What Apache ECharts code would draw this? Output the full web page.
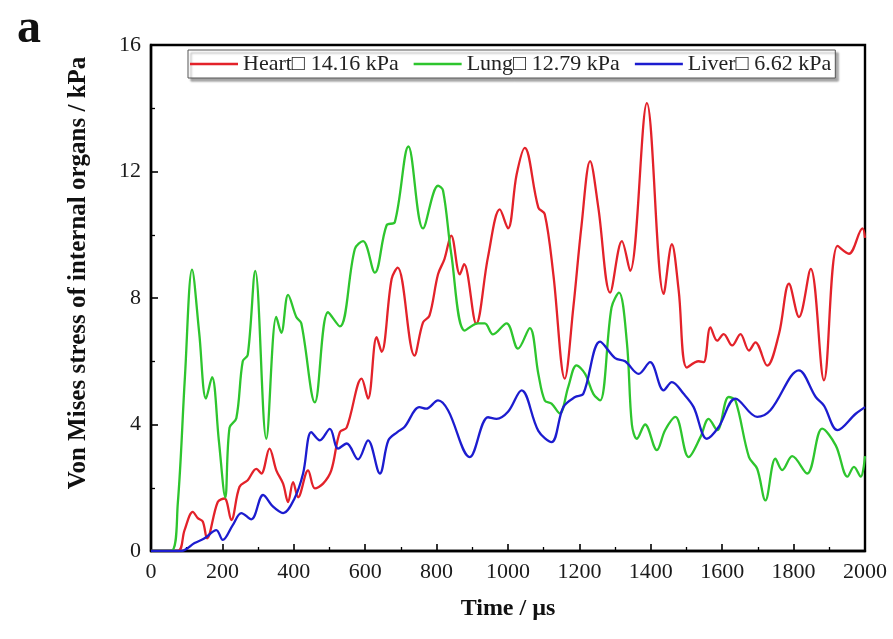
<!DOCTYPE html>
<html>
<head>
<meta charset="utf-8">
<script src="https://cdn.jsdelivr.net/npm/echarts@6/dist/echarts.min.js"></script>
<style>
  html, body { margin: 0; padding: 0; background: #fff; }
  #chart { width: 893px; height: 639px; }
</style>
</head>
<body>
<div id="chart"></div>
<script>
// Von Mises stress histories of three organs (time in µs, stress in kPa)
const heartTime = [0, 75, 94, 117, 131, 145, 157, 187, 206, 225, 248, 271, 295, 309, 332, 351, 370, 384, 398, 412, 440, 459, 482, 505, 529, 548, 590, 608, 632, 646, 674, 691, 738, 762, 780, 804, 822, 841, 865, 877, 911, 944, 977, 1000, 1024, 1047, 1085, 1103, 1127, 1159, 1183, 1206, 1230, 1253, 1286, 1319, 1342, 1389, 1436, 1459, 1478, 1501, 1534, 1548, 1567, 1586, 1604, 1628, 1651, 1675, 1693, 1726, 1759, 1787, 1815, 1848, 1885, 1923, 1955, 1993, 2000];
const heartStress = [0, 0, 0.66, 1.24, 1.04, 0.93, 0.4, 1.55, 1.66, 0.98, 2.03, 2.24, 2.6, 2.45, 3.24, 2.55, 2.13, 1.55, 2.18, 1.7, 2.55, 1.98, 2.13, 2.55, 3.76, 3.9, 5.45, 4.82, 6.76, 6.3, 8.6, 8.96, 6.18, 7.23, 7.44, 8.75, 9.23, 9.97, 8.75, 9.07, 7.19, 9.3, 10.8, 10.2, 11.9, 12.75, 10.86, 10.65, 8.75, 5.45, 7.7, 10.3, 12.33, 10.86, 8.17, 9.8, 8.86, 14.16, 8.13, 9.7, 8.25, 5.8, 6.0, 5.97, 7.07, 6.65, 6.86, 6.5, 6.86, 6.34, 6.6, 5.86, 6.86, 8.45, 7.4, 8.92, 5.4, 9.65, 9.4, 10.2, 9.9];

const lungTime = [0, 56, 75, 95, 115, 135, 154, 171, 190, 208, 220, 239, 257, 271, 292, 323, 351, 365, 384, 407, 421, 459, 496, 529, 571, 594, 627, 660, 683, 721, 762, 804, 818, 841, 879, 916, 935, 958, 996, 1028, 1061, 1085, 1103, 1122, 1145, 1169, 1192, 1216, 1239, 1258, 1290, 1311, 1333, 1347, 1361, 1384, 1417, 1440, 1469, 1506, 1539, 1562, 1586, 1618, 1637, 1675, 1698, 1721, 1749, 1768, 1796, 1838, 1880, 1918, 1951, 1969, 1988, 2000];
const lungStress = [0, 0, 1.5, 5.5, 8.9, 6.9, 4.82, 5.5, 3.5, 1.7, 3.9, 4.2, 6.0, 6.2, 8.86, 3.55, 7.4, 6.9, 8.1, 7.4, 7.2, 4.7, 7.55, 7.1, 9.55, 9.8, 8.8, 10.3, 10.4, 12.79, 10.2, 11.55, 11.4, 9.4, 6.97, 7.2, 7.2, 6.85, 7.2, 6.4, 7.05, 5.6, 4.76, 4.66, 4.35, 5.2, 5.87, 5.6, 4.97, 4.76, 7.7, 8.17, 6.6, 4.0, 3.55, 4.0, 3.19, 3.82, 4.24, 2.97, 3.6, 4.18, 3.82, 4.87, 4.76, 2.97, 2.6, 1.6, 2.92, 2.56, 3.0, 2.45, 3.87, 3.34, 2.35, 2.66, 2.35, 3.0];

const liverTime = [0, 84, 122, 150, 183, 201, 229, 253, 281, 314, 342, 370, 402, 426, 449, 473, 501, 524, 548, 580, 608, 641, 665, 690, 710, 752, 771, 804, 832, 893, 944, 968, 1000, 1038, 1085, 1122, 1155, 1188, 1211, 1258, 1300, 1328, 1366, 1398, 1436, 1459, 1492, 1520, 1557, 1590, 1637, 1698, 1735, 1815, 1862, 1885, 1923, 1974, 2000];
const liverStress = [0, 0, 0.25, 0.4, 0.66, 0.35, 0.82, 1.2, 1.0, 1.77, 1.4, 1.2, 1.66, 2.45, 3.76, 3.5, 3.86, 3.24, 3.4, 2.9, 3.5, 2.45, 3.5, 3.76, 3.92, 4.55, 4.5, 4.76, 4.45, 2.97, 4.23, 4.18, 4.4, 5.08, 3.8, 3.44, 4.55, 4.87, 4.97, 6.62, 6.1, 6.0, 5.6, 5.97, 5.08, 5.34, 4.97, 4.55, 3.55, 3.92, 4.82, 4.24, 4.45, 5.71, 4.87, 4.6, 3.82, 4.34, 4.55];

const seriesNames = ['Heart\u25A1 14.16 kPa', 'Lung\u25A1 12.79 kPa', 'Liver\u25A1 6.62 kPa'];
const seriesColors = ['#e3222a', '#2ec52e', '#1c1ccf'];

const xTicks = { min: 0, max: 2000, interval: 200 };
const yTicks = { min: 0, max: 16, interval: 4 };

const serif = 'Liberation Serif';

function pairs(ts, vs) { return ts.map((t, i) => [t, vs[i]]); }

const chart = echarts.init(document.getElementById('chart'), null, { renderer: 'canvas' });

const axisCommon = {
  axisLine: { show: true, lineStyle: { color: '#000', width: 2.4 } },
  axisTick: { show: true, inside: true, length: 7, lineStyle: { color: '#000', width: 1.6 } },
  minorTick: { show: true, splitNumber: 2, length: 4, lineStyle: { color: '#000', width: 1.3 } },
  splitLine: { show: false },
  axisLabel: { color: '#1a1a1a', fontFamily: serif, fontSize: 22, margin: 10, formatter: v => String(v) },
  nameTextStyle: { color: '#111', fontFamily: serif, fontSize: 24, fontWeight: 'bold' }
};

chart.setOption({
  backgroundColor: '#fff',
  animation: false,
  graphic: [{
    type: 'text', left: 17, top: 6,
    style: { text: 'a', font: 'bold 48px "Liberation Serif"', fill: '#111' }
  }],
  grid: { left: 151, right: 28, top: 45, bottom: 88, show: true, borderColor: '#000', borderWidth: 2.4, backgroundColor: 'transparent' },
  legend: {
    left: 188, top: 50,
    data: seriesNames,
    icon: 'rect',
    itemWidth: 48, itemHeight: 2.5, itemGap: 15,
    padding: [3, 4, 3, 2],
    backgroundColor: '#fff',
    borderColor: '#555', borderWidth: 1,
    shadowColor: 'rgba(0,0,0,0.35)', shadowBlur: 2, shadowOffsetX: 3, shadowOffsetY: 3,
    textStyle: { color: '#222', fontFamily: serif, fontSize: 22 }
  },
  xAxis: Object.assign({}, axisCommon, {
    type: 'value', min: xTicks.min, max: xTicks.max, interval: xTicks.interval,
    name: 'Time / \u00B5s', nameLocation: 'middle', nameGap: 46
  }),
  yAxis: Object.assign({}, axisCommon, {
    type: 'value', min: yTicks.min, max: yTicks.max, interval: yTicks.interval,
    name: 'Von Mises stress of internal organs / kPa', nameLocation: 'middle', nameGap: 60,
    nameTextStyle: Object.assign({}, axisCommon.nameTextStyle, { fontSize: 25, padding: [0, 0, 0, 50] })
  }),
  series: [
    { name: seriesNames[0], data: pairs(heartTime, heartStress) },
    { name: seriesNames[1], data: pairs(lungTime, lungStress) },
    { name: seriesNames[2], data: pairs(liverTime, liverStress) }
  ].map((s, i) => Object.assign(s, {
    type: 'line', smooth: 0.35, symbol: 'none', clip: true,
    lineStyle: { color: seriesColors[i], width: 2.3 },
    itemStyle: { color: seriesColors[i] }
  }))
});
</script>
</body>
</html>
